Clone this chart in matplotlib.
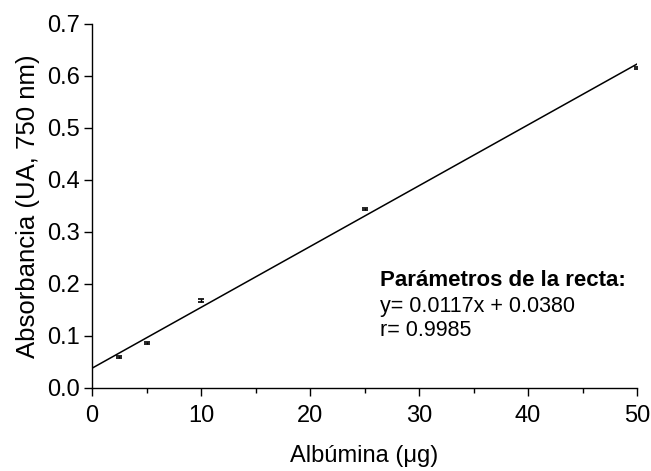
import matplotlib
matplotlib.use("Agg")
import matplotlib.pyplot as plt
from matplotlib.ticker import MultipleLocator

plt.rcParams['font.family'] = ['Liberation Sans', 'DejaVu Sans']

albumina = [2.5, 5, 10, 25, 50]
absorbancia = [0.060, 0.086, 0.169, 0.344, 0.615]
errores = [0.002, 0.002, 0.003, 0.002, 0.002]
pendiente = 0.0117
intercepto = 0.0380
linea_x = [0, 50]
x_ticks = [0, 10, 20, 30, 40, 50]
y_ticks = [0.0, 0.1, 0.2, 0.3, 0.4, 0.5, 0.6, 0.7]

fig = plt.figure(figsize=(6.51, 4.71), dpi=100)
ax = fig.add_axes([92/651, 1-388/471, (637-92)/651, (388-24)/471])

ax.plot(linea_x, [pendiente*x + intercepto for x in linea_x], color='black', lw=1.1)
ax.errorbar(albumina, absorbancia, yerr=errores, fmt='none', ecolor='black',
            elinewidth=1.0, capsize=2.5, capthick=1.2)

ax.set_xlim(0, 50)
ax.set_ylim(0, 0.7)
ax.set_xticks(x_ticks)
ax.set_yticks(y_ticks)
ax.set_yticklabels([f"{v:.1f}" for v in y_ticks])
ax.xaxis.set_minor_locator(MultipleLocator(5))
ax.tick_params(axis='both', which='major', direction='out', length=6, width=1, labelsize=17, color='black')
ax.tick_params(axis='x', which='major', pad=6)
ax.tick_params(axis='y', which='major', pad=3)
ax.tick_params(axis='x', which='minor', direction='out', length=3.5, width=1)
for s in ['top', 'right']:
    ax.spines[s].set_visible(False)
for s in ['left', 'bottom']:
    ax.spines[s].set_linewidth(1)

ax.set_xlabel('Albúmina (μg)', fontsize=17, labelpad=13)
ax.set_ylabel('Absorbancia (UA, 750 nm)', fontsize=18.5, labelpad=5)

ax.text(26.4, 0.196, 'Parámetros de la recta:', fontsize=16, fontweight='bold', va='baseline', ha='left')
ax.text(26.4, 0.146, 'y= 0.0117x + 0.0380', fontsize=15.5, va='baseline', ha='left')
ax.text(26.4, 0.100, 'r= 0.9985', fontsize=15.5, va='baseline', ha='left')

fig.savefig('out.png', dpi=100)
